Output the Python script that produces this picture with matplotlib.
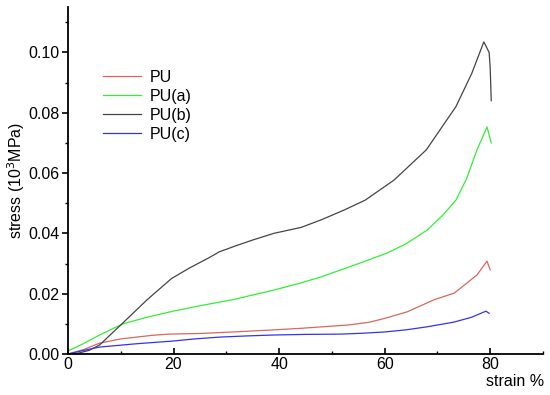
import matplotlib
matplotlib.use("Agg")
from matplotlib import pyplot as plt
from matplotlib.ticker import MultipleLocator

plt.rcParams["font.family"] = ["Liberation Sans", "DejaVu Sans"]

# strain (%) and stress (10^3 MPa)
pu_x = [0, 3, 6, 10, 13, 16, 19.3, 25, 31.2, 39, 44, 48, 53, 57, 60, 64.3,
        69.4, 73.2, 77.5, 79.4, 80.0]
pu_y = [0, 0.0015, 0.0036, 0.0050, 0.0056, 0.0062, 0.0066, 0.0068, 0.0073,
        0.0080, 0.0085, 0.0090, 0.0096, 0.0105, 0.0118, 0.0140,
        0.0180, 0.0202, 0.0262, 0.0308, 0.0279]

pua_x = [0, 3, 6, 10.4, 15, 19.9, 25, 31.2, 39, 44, 48, 54.3, 60.5, 64,
         68, 71, 73.5, 75.5, 77.5, 79.4, 80.2]
pua_y = [0.0010, 0.0035, 0.0063, 0.0100, 0.0122, 0.0142, 0.0160, 0.0180,
         0.0212, 0.0235, 0.0256, 0.0295, 0.0335, 0.0365, 0.0410, 0.0460,
         0.0510, 0.0580, 0.0677, 0.0753, 0.0700]

pub_x = [0, 2, 4, 6, 10.4, 15, 19.6, 23, 26.8, 28.7, 32, 35, 39, 44.2,
         48, 52.4, 56.3, 61.8, 67.9, 73.5, 76.5, 78.8, 79.8, 80.0, 80.2]
pub_y = [0, 0.0003, 0.0012, 0.0030, 0.0103, 0.0180, 0.0250, 0.0285, 0.0320,
         0.0339, 0.0360, 0.0378, 0.0400, 0.0420, 0.0445, 0.0478, 0.0510,
         0.0577, 0.0677, 0.0820, 0.0930, 0.1035, 0.1000, 0.0950, 0.0840]

puc_x = [0, 3, 6, 13, 19.9, 24, 28.7, 34, 39, 45, 51.8, 56, 60, 64, 68,
         73.2, 76.5, 79.2, 79.8]
puc_y = [0, 0.0012, 0.0023, 0.0034, 0.0043, 0.0050, 0.0056, 0.0060, 0.0063,
         0.0065, 0.0066, 0.0069, 0.0073, 0.0080, 0.0090, 0.0106, 0.0122,
         0.0142, 0.0135]

labels = ["PU", "PU(a)", "PU(b)", "PU(c)"]
colors = ["#d8675c", "#33ee33", "#444444", "#3333ee"]

fig = plt.figure(figsize=(5.5, 3.95), dpi=100)
ax = fig.add_axes([0.1236, 0.1038, 0.8636, 0.878])

for (x, y), lab, c in zip([(pu_x, pu_y), (pua_x, pua_y), (pub_x, pub_y), (puc_x, puc_y)],
                          labels, colors):
    ax.plot(x, y, color=c, lw=0.9, label=lab)

ax.set_xlim(0, 90)
ax.set_ylim(0, 0.115)
ax.xaxis.set_major_locator(MultipleLocator(20))
ax.xaxis.set_minor_locator(MultipleLocator(10))
ax.yaxis.set_major_locator(MultipleLocator(0.02))
ax.yaxis.set_minor_locator(MultipleLocator(0.01))
ax.yaxis.set_major_formatter(matplotlib.ticker.FormatStrFormatter("%.2f"))

for s in ["top", "right"]:
    ax.spines[s].set_visible(False)
for s in ["left", "bottom"]:
    ax.spines[s].set_linewidth(1.3)

ax.tick_params(axis="x", which="major", direction="in", length=4, width=1.2,
               labelsize=11.5, pad=2)
ax.tick_params(axis="x", which="minor", direction="in", length=2.5, width=1)
ax.tick_params(axis="y", which="major", direction="out", length=4, width=1.2,
               labelsize=11.5, pad=2)
ax.tick_params(axis="y", which="minor", direction="out", length=2.5, width=1)

ax.set_ylabel("stress (10$^3$MPa)", fontsize=11.5, labelpad=1)
fig.text(0.99, 0.035, "strain %", ha="right", va="center", fontsize=11.5)

ax.legend(loc="upper left", bbox_to_anchor=(103 / 550, 1 - 70 / 395),
          bbox_transform=fig.transFigure, frameon=False, fontsize=11.5,
          handlelength=2.4, handletextpad=0.5, labelspacing=0.25,
          borderaxespad=0, borderpad=0)

fig.savefig("out.png", dpi=100)
